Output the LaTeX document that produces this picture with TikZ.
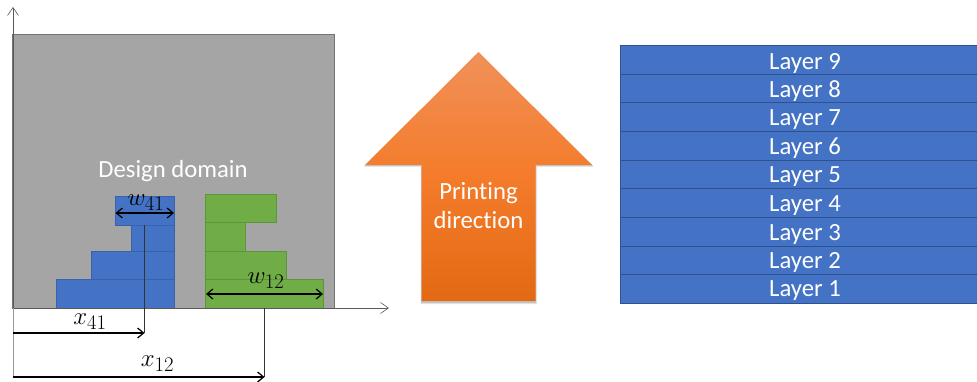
\documentclass[tikz,border=0pt]{standalone}
\usepackage{fontspec}
\setmainfont{Carlito}[Ligatures=NoCommon]
\usetikzlibrary{arrows.meta}
\definecolor{domaingray}{HTML}{A5A5A5}
\definecolor{blockblue}{HTML}{4472C4}
\definecolor{blockblueedge}{HTML}{3A62AB}
\definecolor{blockgreen}{HTML}{70AD47}
\definecolor{blockgreenedge}{HTML}{5C953A}
\definecolor{layeredge}{HTML}{2F528F}
\definecolor{arrowtop}{HTML}{F0915A}
\definecolor{arrowbot}{HTML}{E36A14}
\definecolor{arrowmid}{HTML}{F47B2A}
\tikzset{
  box/.style={anchor=north west,inner sep=0pt,outer sep=0pt,line width=1pt},
  domainbox/.style={box,fill=domaingray,draw=black!55},
  blueblock/.style={box,fill=blockblue,draw=blockblueedge},
  greenblock/.style={box,fill=blockgreen,draw=blockgreenedge},
  layerbox/.style={box,fill=blockblue,draw=layeredge},
  axisline/.style={draw=black!65,line width=0.8pt,-{Straight Barb[length=8pt,width=11pt,line width=0.6pt]}},
  guide/.style={draw=black!80,line width=0.9pt},
  dimline/.style={draw=black,line width=1.6pt,-{Straight Barb[length=6pt,width=10pt,line width=1.2pt]}},
  dimboth/.style={draw=black,line width=1.6pt,{Straight Barb[length=6pt,width=10pt,line width=1.2pt]}-{Straight Barb[length=6pt,width=10pt,line width=1.2pt]}},
  mathlabel/.style={inner sep=0pt,font=\fontsize{28}{30}\selectfont},
  whitelabel/.style={text=white,inner sep=0pt,font=\fontsize{24.7}{29}\selectfont,align=center},
  layerlabel/.style={text=white,inner sep=0pt,font=\fontsize{24.7}{29}\selectfont}
}
\begin{document}
\begin{tikzpicture}[x=1pt,y=-1pt]
\useasboundingbox (0,0) rectangle (977,382);
% design domain
\node[domainbox,minimum width=322pt,minimum height=274pt] (domain) at (12.5,34.5) {};
\node[whitelabel] (ddlabel) at (173,171) {Design domain};
% blue stack
\node[blueblock,minimum width=59pt,minimum height=29pt] (b1) at (115,196.5) {};
\node[blueblock,minimum width=43pt,minimum height=26pt] (b2) at (131,225.5) {};
\node[blueblock,minimum width=83pt,minimum height=28pt] (b3) at (91,251.5) {};
\node[blueblock,minimum width=118pt,minimum height=29pt] (b4) at (56,279.5) {};
% green stack
\node[greenblock,minimum width=71pt,minimum height=28pt] (g1) at (205,194.5) {};
\node[greenblock,minimum width=40pt,minimum height=29pt] (g2) at (205,222.5) {};
\node[greenblock,minimum width=81pt,minimum height=28pt] (g3) at (205,251.5) {};
\node[greenblock,minimum width=118pt,minimum height=29pt] (g4) at (205,279.5) {};
% axes
\coordinate (origin) at (13,308);
\coordinate (xend) at (389,308);
\coordinate (yend) at (13,7);
\coordinate (ybottom) at (13,377);
\draw[axisline] (origin) -- (xend);
\draw[axisline] (origin) -- (yend);
\draw[draw=black!40,line width=1pt] (origin) -- (ybottom);
% guides
\coordinate (g41top) at (144.5,225);
\coordinate (g41bot) at (144.5,333);
\coordinate (g12top) at (264.5,308);
\coordinate (g12bot) at (264.5,377);
\coordinate (x41start) at (13,333);
\coordinate (x12start) at (13,377);
\draw[guide] (g41top) -- (g41bot);
\draw[guide] (g12top) -- (g12bot);
\draw[dimline] (x41start) -- (g41bot);
\draw[dimline] (x12start) -- (g12bot);
% widths
\coordinate (w41a) at (115.5,213);
\coordinate (w41b) at (174,213);
\coordinate (w12a) at (206,294);
\coordinate (w12b) at (323,294);
\draw[dimboth] (w41a) -- (w41b);
\draw[dimboth] (w12a) -- (w12b);
\node[mathlabel] (lw41) at (146,203) {$w_{41}$};
\node[mathlabel] (lw12) at (266,281) {$w_{12}$};
\node[mathlabel] (lx41) at (90,322) {$x_{41}$};
\node[mathlabel] (lx12) at (157.5,364) {$x_{12}$};
% printing direction arrow
\path[fill=black,fill opacity=0.10] (478.5,54) -- (594,167) -- (537,167) -- (537,304) -- (420.5,304) -- (420.5,167) -- (363.5,167) -- cycle;
\path[fill=black,fill opacity=0.15] (478.5,53) -- (593,166) -- (536,166) -- (536,303) -- (421,303) -- (421,166) -- (364,166) -- cycle;
\path[top color=arrowtop,bottom color=arrowbot,middle color=arrowmid] (478.5,52) -- (592,165) -- (535.5,165) -- (535.5,301) -- (421.5,301) -- (421.5,165) -- (365,165) -- cycle;
\node[whitelabel] (printlabel) at (478.5,205.5) {Printing\\direction};
% layers
\foreach \n [count=\i from 0] in {9,8,7,6,5,4,3,2,1}{
  \node[layerbox,minimum width=365pt,minimum height=28.67pt] (layer\n) at (620,45.5+28.67*\i) {};
  \node[layerlabel] (layertext\n) at (805,63+28.5*\i) {Layer \n};
}
\end{tikzpicture}
\end{document}
